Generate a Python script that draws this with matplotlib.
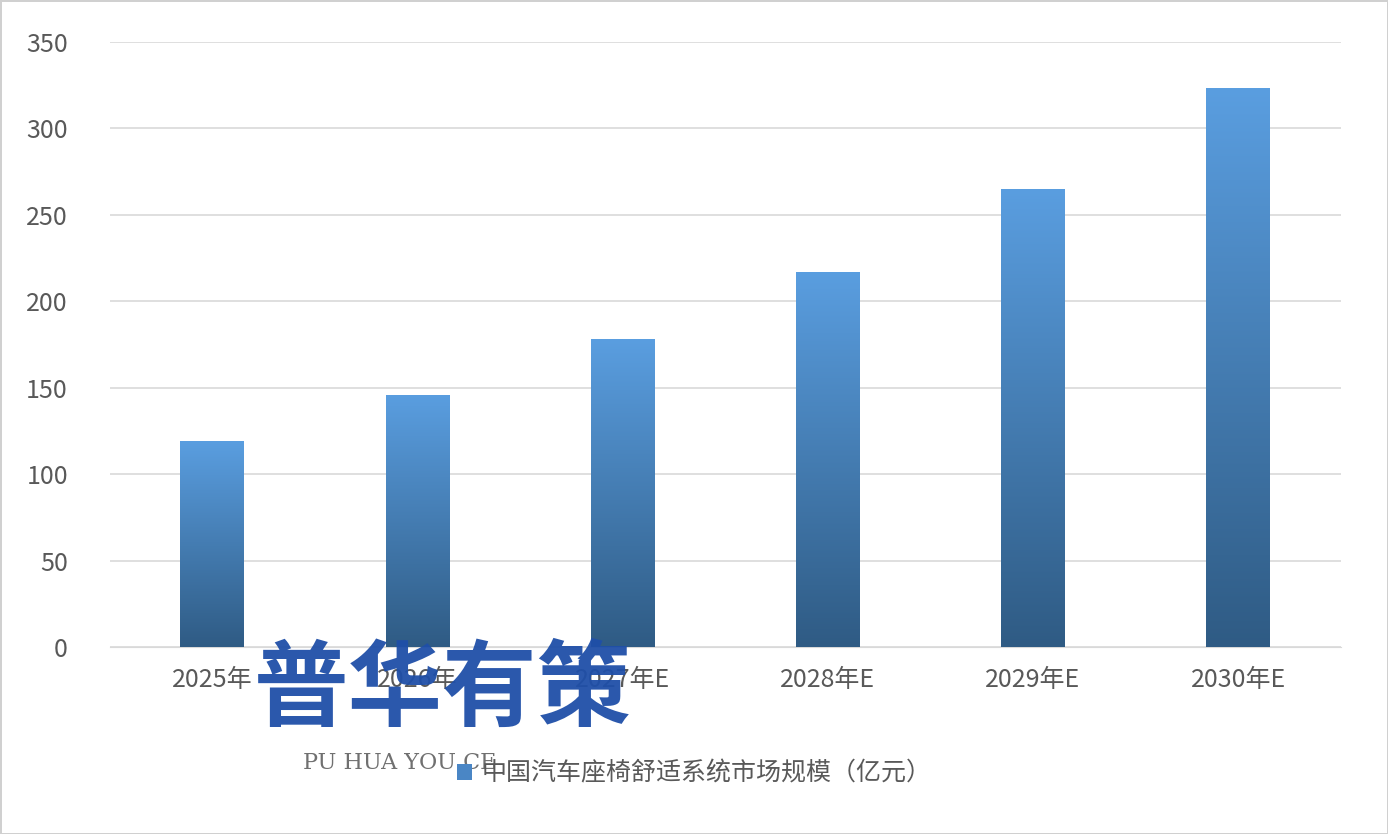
import matplotlib.pyplot as plt
import numpy as np
from matplotlib.colors import LinearSegmentedColormap

plt.rcParams['font.family'] = ['Noto Sans CJK SC', 'DejaVu Sans']

years = ['2025年', '2026年', '2027年E', '2028年E', '2029年E', '2030年E']
market_size = [119, 146, 178, 217, 265, 323]
series_name = '中国汽车座椅舒适系统市场规模（亿元）'

fig = plt.figure(figsize=(13.88, 8.34), dpi=100)
ax = fig.add_axes([0.079, 0.224, 0.887, 0.726])

x = np.arange(len(years))
width = 0.31
bars = ax.bar(x, market_size, width, color='#4a86c5', zorder=2)

# gradient fill: light blue top, darker bottom
cmap = LinearSegmentedColormap.from_list('g', ['#2f5b84', '#5a9ee0'])
grad = np.linspace(0, 1, 256).reshape(-1, 1)
for b in bars:
    x0, y0, w, h = b.get_x(), b.get_y(), b.get_width(), b.get_height()
    im = ax.imshow(grad, cmap=cmap, origin='lower', aspect='auto',
                   extent=[x0, x0 + w, y0, y0 + h], zorder=3)
    im.set_clip_path(b)

ax.set_xlim(-0.5, len(years) - 0.5)
ax.set_ylim(0, 350)
ax.set_yticks(range(0, 351, 50))
ax.set_xticks(x)
ax.set_xticklabels(years)
ax.grid(axis='y', color='#d9d9d9', linewidth=1.2, zorder=0)
for s in ['top', 'right', 'left']:
    ax.spines[s].set_visible(False)
ax.spines['bottom'].set_color('#d9d9d9')
ax.tick_params(length=0, labelsize=18, colors='#595959', pad=14)
ax.tick_params(axis='y', pad=30)

fig.legend([bars[0]], [series_name], loc='lower center', bbox_to_anchor=(0.5, 0.03),
           frameon=False, fontsize=18, handlelength=0.6, handleheight=0.6,
           labelcolor='#595959', handletextpad=0.4)

# watermark
fig.text(0.183, 0.138, '普华有策', fontsize=68, fontweight='bold', color='#1f4fa8', alpha=0.95)
fig.text(0.218, 0.078, 'PU HUA YOU CE', fontsize=16, family='DejaVu Serif', color='#707070')

fig.patch.set_edgecolor('#d0d0d0')
fig.patch.set_linewidth(2)
fig.savefig('out.png', dpi=100)
